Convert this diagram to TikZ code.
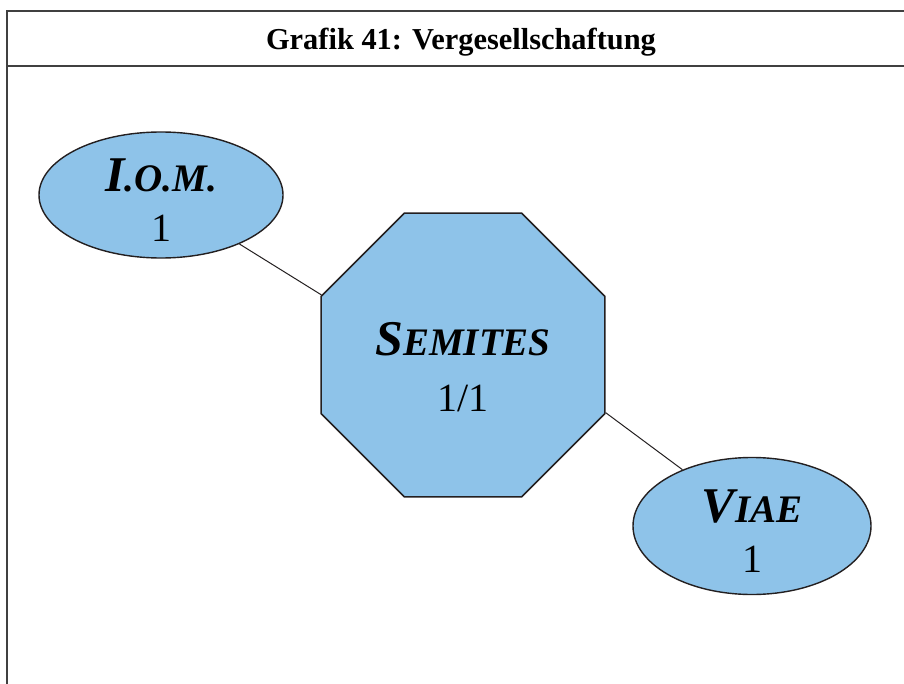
\documentclass[tikz,border=0pt]{standalone}
\usepackage{fontspec}
\setmainfont{Liberation Serif}
\usetikzlibrary{shapes.geometric}
\definecolor{node_blue}{RGB}{142,195,233}
\definecolor{line_dark}{RGB}{35,31,32}
\newcommand{\capsname}[2]{{\fontsize{25}{30}\selectfont\bfseries\itshape #1}{\fontsize{19.5}{24}\selectfont\bfseries\itshape #2}}
\tikzset{
  frame_line/.style={line width=1pt, draw=black!75},
  title_style/.style={font=\fontsize{15.2}{18}\selectfont\bfseries, anchor=base, inner sep=0pt},
  group_ellipse/.style={ellipse, draw=line_dark, fill=node_blue, line width=0.7pt, inner sep=0pt},
  group_octagon/.style={regular polygon, regular polygon sides=8, draw=line_dark, fill=node_blue, line width=0.8pt, inner sep=0pt, minimum size=153.5pt},
  node_text/.style={align=center, font=\fontsize{20}{25}\selectfont, inner sep=0pt},
  link/.style={-, draw=line_dark, line width=0.5pt}
}

\begin{document}
\begin{tikzpicture}[x=0.5pt, y=-0.5pt]
  \useasboundingbox (0,0) rectangle (904,684);

  % --- Frame and title ---
  \draw[frame_line] (910,11) -- (7,11) -- (7,690);
  \draw[frame_line] (7,66) -- (910,66);
  \node[title_style] (title) at (461,50) {Grafik 41: Vergesellschaftung};

  % --- Groups ---
  \node[group_ellipse, minimum width=122pt, minimum height=63pt,
    label={[name=iom_text, node_text, yshift=-2.5pt]center:{\capsname{I}{.O.M.}\\1}}] (iom) at (161,195) {};
  \node[group_octagon,
    label={[name=semites_text, node_text, font=\fontsize{20}{28}\selectfont, yshift=-6pt]center:{\capsname{S}{EMITES}\\1/1}}] (semites) at (463,355) {};
  \node[group_ellipse, minimum width=119pt, minimum height=68.5pt,
    label={[name=viae_text, node_text, yshift=-2.5pt]center:{\capsname{V}{IAE}\\1}}] (viae) at (752,526) {};

  % --- Connections ---
  \draw[link] (iom.-32) -- (semites.157.5);
  \draw[link] (semites.-22.5) -- (viae.141);
\end{tikzpicture}
\end{document}
